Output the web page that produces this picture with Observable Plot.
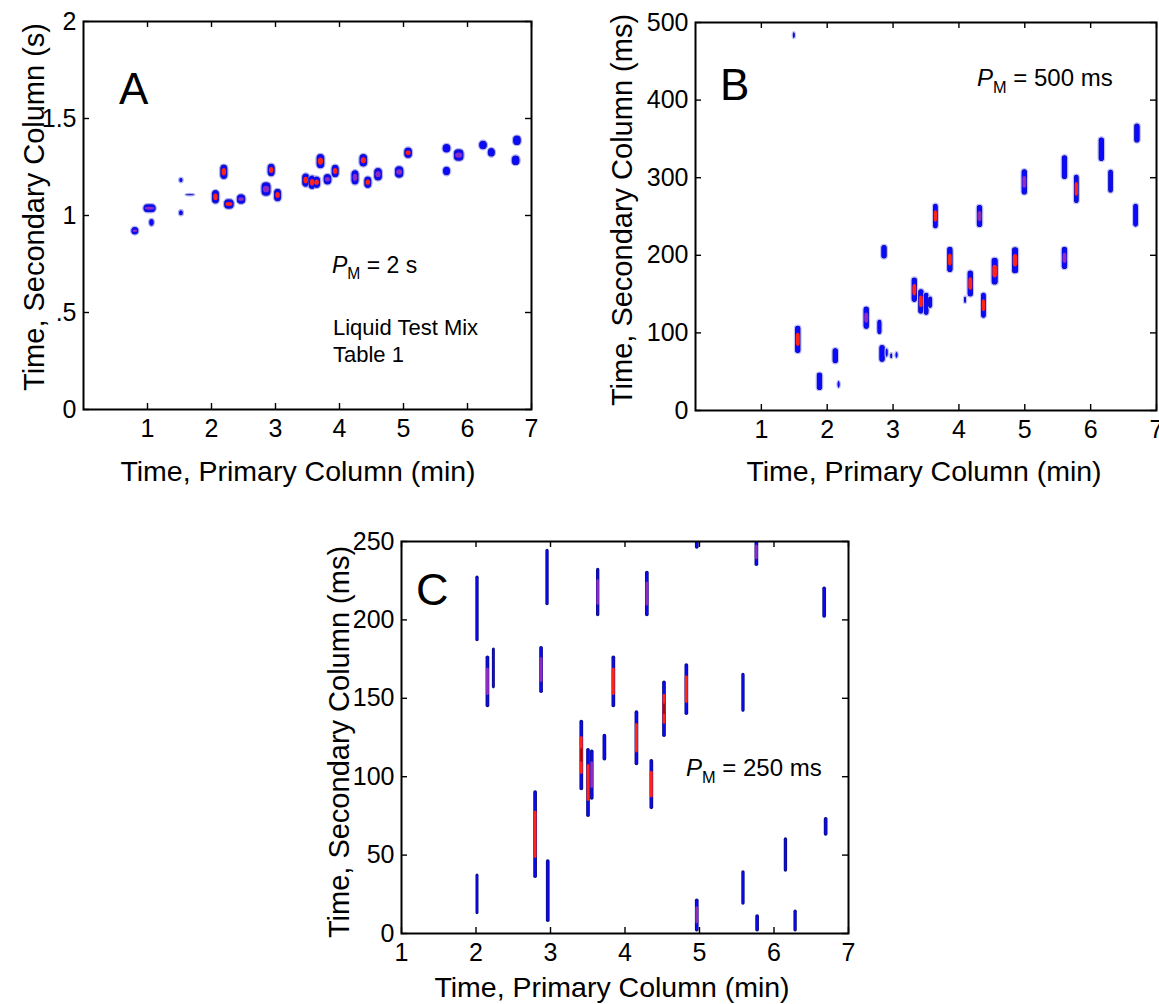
<!DOCTYPE html>
<html><head><meta charset="utf-8">
<script src="https://cdn.jsdelivr.net/npm/d3@7"></script>
<script src="https://cdn.jsdelivr.net/npm/@observablehq/plot@0.6"></script>
<style>
body{margin:0;background:#fff;}
#root{position:relative;width:1159px;height:1004px;overflow:hidden;font-family:"Liberation Sans",Arial,Helvetica,sans-serif;}
.panel{position:absolute;}
.panel svg{overflow:visible;}
#overlay{position:absolute;left:0;top:0;pointer-events:none;}
</style></head><body><div id="root"></div>
<script>
// ---------- ticks ----------
const xTicks = [1, 2, 3, 4, 5, 6, 7];
const aYTicks = [0, 0.5, 1, 1.5, 2];
const aYTickLabels = ["0", ".5", "1", "1.5", "2"];
const bYTicks = [0, 100, 200, 300, 400, 500];
const cYTicks = [0, 50, 100, 150, 200, 250];

// ---------- Panel A (PM = 2 s): primary time (min), secondary time (s) ----------
const aX =    [0.81, 1.04, 1.07, 1.53, 1.53, 1.67, 2.20, 2.07, 2.28, 2.47, 2.94, 2.86, 3.04, 3.48, 3.58, 3.65, 3.82, 3.71, 3.94, 4.25, 4.38, 4.45, 4.61, 4.94, 5.08, 5.68, 5.68, 5.87, 6.25, 6.38, 6.78, 6.76];
const aY =    [0.919, 1.035, 0.962, 1.180, 1.012, 1.105, 1.223, 1.094, 1.057, 1.082, 1.232, 1.134, 1.103, 1.180, 1.169, 1.169, 1.184, 1.278, 1.227, 1.194, 1.282, 1.169, 1.210, 1.222, 1.321, 1.344, 1.227, 1.309, 1.361, 1.323, 1.385, 1.282];
const aH =    [0.045, 0.048, 0.042, 0.028, 0.032, 0.012, 0.080, 0.075, 0.055, 0.055, 0.070, 0.075, 0.070, 0.075, 0.075, 0.065, 0.060, 0.080, 0.070, 0.080, 0.070, 0.065, 0.070, 0.065, 0.060, 0.050, 0.050, 0.065, 0.050, 0.050, 0.055, 0.055];
const aW =    [0.13, 0.21, 0.09, 0.07, 0.08, 0.15, 0.13, 0.13, 0.17, 0.15, 0.13, 0.16, 0.13, 0.13, 0.13, 0.13, 0.14, 0.14, 0.13, 0.13, 0.14, 0.13, 0.14, 0.15, 0.14, 0.14, 0.13, 0.17, 0.14, 0.13, 0.14, 0.14];
const aCore = [1, 1, 0, 0, 0, 0, 2, 2, 2, 1, 2, 1, 2, 2, 2, 2, 1, 2, 3, 1, 2, 2, 1, 1, 2, 0, 0, 1, 0, 0, 0, 0];

// ---------- Panel B (PM = 500 ms): secondary time (ms) ----------
const bX =    [1.50, 1.56, 1.89, 2.13, 2.18, 2.60, 2.80, 2.84, 2.91, 2.98, 3.06, 2.87, 3.33, 3.43, 3.51, 3.57, 3.65, 3.87, 4.10, 4.18, 4.32, 4.38, 4.55, 4.86, 5.00, 5.61, 5.61, 5.79, 6.17, 6.31, 6.71, 6.69];
const bY =    [483, 91, 37, 70, 33, 119, 107, 73, 74, 70, 71, 204, 155, 140, 137, 139, 250, 194, 142, 163, 250, 135, 179, 193, 294, 196, 313, 285, 336, 295, 357, 251];
const bH =    [9, 37, 24, 21, 10, 30, 20, 23, 12, 8, 9, 19, 33, 33, 30, 16, 33, 34, 10, 35, 30, 34, 36, 35, 34, 30, 32, 38, 32, 31, 26, 31];
const bW =    [0.05, 0.10, 0.10, 0.10, 0.05, 0.10, 0.08, 0.10, 0.05, 0.05, 0.05, 0.10, 0.10, 0.10, 0.09, 0.08, 0.09, 0.10, 0.05, 0.10, 0.10, 0.09, 0.11, 0.11, 0.10, 0.10, 0.10, 0.09, 0.10, 0.09, 0.10, 0.09];
const bCore = [0, 2, 0, 0, 0, 1, 0, 0, 0, 0, 0, 0, 2, 2, 0, 0, 2, 2, 0, 2, 1, 2, 2, 2, 1, 1, 0, 2, 0, 0, 0, 0];

// ---------- Panel C (PM = 250 ms): secondary time (ms) ----------
const cX =    [2.02, 2.96, 3.64, 4.30, 4.97, 5.77, 6.68, 2.16, 2.24, 2.88, 3.85, 4.83, 5.59, 4.53, 4.16, 3.73, 3.42, 3.51, 3.56, 4.36, 2.80, 2.97, 2.02, 4.97, 5.59, 5.78, 6.29, 6.16, 6.70];
const cY =    [207, 227, 217.5, 216.5, 249, 243, 211, 160.5, 169, 168, 160.5, 155.5, 153.5, 143, 124.5, 118.5, 113.5, 96, 101, 95, 63, 27, 25, 11.5, 29, 6.5, 8, 50, 68];
const cH =    [42, 36, 31, 29, 8, 18, 20, 33, 26, 30, 33, 33, 25, 36, 35, 17, 45, 44, 32, 32, 56, 40, 26, 21, 22, 11, 14, 22, 12];
const cW =    [0.045, 0.045, 0.045, 0.05, 0.05, 0.05, 0.05, 0.05, 0.04, 0.05, 0.05, 0.05, 0.045, 0.05, 0.05, 0.05, 0.05, 0.05, 0.05, 0.05, 0.05, 0.05, 0.04, 0.05, 0.045, 0.05, 0.045, 0.045, 0.05];
const cCore = [0, 0, 1, 1, 0, 1, 0, 1, 0, 1, 2, 2, 0, 3, 2, 0, 3, 2, 1, 2, 2, 0, 0, 1, 0, 0, 0, 0, 0];

const FONT = '"Liberation Sans", Arial, Helvetica, sans-serif';

function peaks(X, Y, H, W, C) {
  return X.map((x, i) => ({x, y: Y[i], h: H[i], w: W[i], core: C[i]}));
}

function blobMarks(data, o) {
  const X1 = d => d.x - d.w / 2, X2 = d => d.x + d.w / 2;
  const Y1 = d => d.y - d.h / 2, Y2 = d => d.y + d.h / 2;
  const C1 = d => d.y - d.h * o.coreFrac / 2, C2 = d => d.y + d.h * o.coreFrac / 2;
  const D1 = d => d.y - d.h * o.coreFrac / 5, D2 = d => d.y + d.h * o.coreFrac / 5;
  return [
    Plot.rect(data, {x1: X1, x2: X2, y1: Y1, y2: Y2, fill: o.edge, stroke: o.halo || "none", strokeWidth: o.halo ? 1.2 : 0, rx: o.r, clip: true}),
    Plot.rect(data, {x1: X1, x2: X2, y1: Y1, y2: Y2, fill: "#0a0af8", inset: o.inset1, rx: o.r, clip: true}),
    Plot.rect(data.filter(d => d.core === 1), {x1: X1, x2: X2, y1: C1, y2: C2, fill: "#8c2cc0", inset: o.coreInset, rx: o.r, clip: true}),
    Plot.rect(data.filter(d => d.core >= 2), {x1: X1, x2: X2, y1: C1, y2: C2, fill: "#ff2418", inset: o.coreInset, rx: o.r, clip: true}),
    Plot.rect(data.filter(d => d.core === 3), {x1: X1, x2: X2, y1: D1, y2: D2, fill: "#9c0c0c", inset: o.coreInset + 0.4, rx: o.r, clip: true})
  ];
}

function panel(cfg) {
  const pw = cfg.width - cfg.ml - cfg.mr;
  const ph = cfg.height - cfg.mt - cfg.mb;
  const T = 6;
  const fig = Plot.plot({
    width: cfg.width, height: cfg.height,
    marginLeft: cfg.ml, marginRight: cfg.mr, marginTop: cfg.mt, marginBottom: cfg.mb,
    style: {fontFamily: FONT, fontSize: "25px", background: "transparent", overflow: "visible", color: "#000"},
    x: {domain: cfg.xDomain},
    y: {domain: cfg.yDomain},
    marks: [
      ...blobMarks(cfg.data, cfg.blob),
      Plot.tickX(cfg.xTicks, {x: d => d, insetTop: ph - T, stroke: "#000", strokeWidth: 1.4}),
      Plot.tickX(cfg.xTicks, {x: d => d, insetBottom: ph - T, stroke: "#000", strokeWidth: 1.4}),
      Plot.tickY(cfg.yTicks, {y: d => d, insetRight: pw - T, stroke: "#000", strokeWidth: 1.4}),
      Plot.tickY(cfg.yTicks, {y: d => d, insetLeft: pw - T, stroke: "#000", strokeWidth: 1.4}),
      Plot.frame({stroke: "#000", strokeWidth: 2}),
      Plot.axisX({ticks: cfg.xTicks, tickSize: 0, tickPadding: 10, label: null, fontSize: 25, tickFormat: d => String(d)}),
      Plot.axisY({ticks: cfg.yTicks, tickSize: 0, tickPadding: 7, label: null, fontSize: 25, tickFormat: cfg.yFormat})
    ]
  });
  const div = document.createElement("div");
  div.className = "panel";
  div.style.left = cfg.left + "px";
  div.style.top = cfg.top + "px";
  div.appendChild(fig);
  return div;
}

const root = document.getElementById("root");

root.appendChild(panel({
  left: 0, top: 0, width: 560, height: 500, ml: 83, mr: 29, mt: 21, mb: 91,
  xDomain: [0, 7], yDomain: [0, 2], xTicks, yTicks: aYTicks,
  yFormat: d => aYTickLabels[aYTicks.indexOf(d)],
  data: peaks(aX, aY, aH, aW, aCore),
  blob: {r: 4.5, inset1: 1.2, coreFrac: 0.72, coreInset: 1.9, edge: "#1b1bb8", halo: "#b4b4f8"}
}));

root.appendChild(panel({
  left: 600, top: 0, width: 559, height: 500, ml: 95, mr: 3, mt: 22, mb: 90,
  xDomain: [0, 7], yDomain: [0, 500], xTicks, yTicks: bYTicks,
  yFormat: d => String(d),
  data: peaks(bX, bY, bH, bW, bCore),
  blob: {r: 3.4, inset1: 1.0, coreFrac: 0.55, coreInset: 1.3, edge: "#10109c", halo: "#c4c4fa"}
}));

root.appendChild(panel({
  left: 300, top: 520, width: 580, height: 484, ml: 101, mr: 32, mt: 21, mb: 71,
  xDomain: [1, 7], yDomain: [0, 250], xTicks, yTicks: cYTicks,
  yFormat: d => String(d),
  data: peaks(cX, cY, cH, cW, cCore),
  blob: {r: 1.8, inset1: 0.9, coreFrac: 0.55, coreInset: 0.4, edge: "#0c0c8c", halo: null}
}));

// ---------- text overlay: axis titles, panel letters, annotations ----------
const NS = "http://www.w3.org/2000/svg";
const ov = document.createElementNS(NS, "svg");
ov.setAttribute("id", "overlay");
ov.setAttribute("width", 1159);
ov.setAttribute("height", 1004);
ov.style.fontFamily = FONT;
root.appendChild(ov);

function txt(str, x, y, size, opts = {}) {
  const t = document.createElementNS(NS, "text");
  t.setAttribute("x", x); t.setAttribute("y", y);
  t.setAttribute("font-size", size);
  t.setAttribute("fill", "#000");
  if (opts.anchor) t.setAttribute("text-anchor", opts.anchor);
  if (opts.rotate) t.setAttribute("transform", `rotate(-90 ${x} ${y})`);
  t.textContent = str;
  ov.appendChild(t);
  return t;
}
function pm(rest, x, y, size) {
  const t = document.createElementNS(NS, "text");
  t.setAttribute("x", x); t.setAttribute("y", y);
  t.setAttribute("font-size", size); t.setAttribute("fill", "#000");
  const p = document.createElementNS(NS, "tspan");
  p.setAttribute("font-style", "italic"); p.textContent = "P";
  const m = document.createElementNS(NS, "tspan");
  m.setAttribute("font-size", size * 0.68); m.setAttribute("dy", size * 0.28); m.textContent = "M";
  const r = document.createElementNS(NS, "tspan");
  r.setAttribute("dy", -size * 0.28); r.textContent = " = " + rest;
  t.append(p, m, r);
  ov.appendChild(t);
}

const xTitle = "Time, Primary Column (min)";
txt(xTitle, 298, 481, 28.5, {anchor: "middle"});
txt(xTitle, 924, 481, 28.5, {anchor: "middle"});
txt(xTitle, 612, 997, 28.5, {anchor: "middle"});
txt("Time, Secondary Column (s)", 44, 207, 29, {anchor: "middle", rotate: true});
txt("Time, Secondary Column (ms)", 632, 210, 29, {anchor: "middle", rotate: true});
txt("Time, Secondary Column (ms)", 349, 742, 29, {anchor: "middle", rotate: true});

txt("A", 119, 104, 44);
txt("B", 720, 100, 44);
txt("C", 416, 605, 45);

pm("2 s", 332, 273, 23);
txt("Liquid Test Mix", 333, 335, 22);
txt("Table 1", 333, 362, 22);
pm("500 ms", 977, 86, 24);
pm("250 ms", 686, 776, 24);
</script></body></html>
